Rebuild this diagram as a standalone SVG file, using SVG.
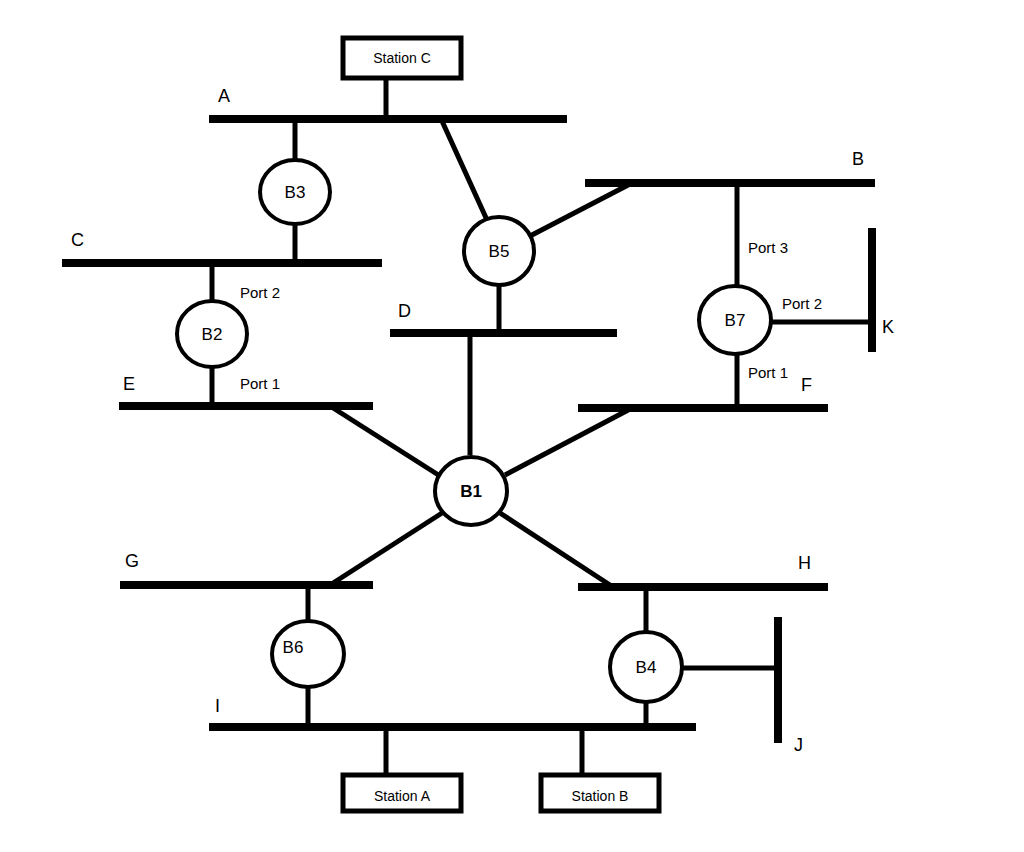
<svg xmlns="http://www.w3.org/2000/svg" width="1024" height="852" viewBox="0 0 1024 852">
<style>
.bus{stroke:#000;stroke-width:8;fill:none}
.ln{stroke:#000;stroke-width:5;fill:none}
.br{fill:#fff;stroke:#000;stroke-width:4}
.box{fill:#fff;stroke:#000;stroke-width:5}
text{font-family:"Liberation Sans",Arial,sans-serif;fill:#000}
.lb{font-size:18px}
.bt{font-size:17px;text-anchor:middle}
.pt{font-size:15px}
.st{font-size:14px;text-anchor:middle}
</style>
<rect width="1024" height="852" fill="#fff"/>
<g id="connectors">
<line class="ln" x1="386" y1="78" x2="386" y2="119"/>
<line class="ln" x1="295" y1="119" x2="295" y2="160"/>
<line class="ln" x1="295" y1="224" x2="295" y2="263"/>
<line class="ln" x1="212" y1="263" x2="212" y2="300"/>
<line class="ln" x1="212" y1="368" x2="212" y2="406"/>
<line class="ln" x1="442" y1="121" x2="487" y2="220"/>
<line class="ln" x1="530" y1="236" x2="632" y2="183"/>
<line class="ln" x1="499" y1="286" x2="499" y2="333"/>
<line class="ln" x1="737" y1="183" x2="737" y2="285"/>
<line class="ln" x1="771" y1="322" x2="872" y2="322"/>
<line class="ln" x1="737" y1="355" x2="737" y2="408"/>
<line class="ln" x1="330" y1="406" x2="440" y2="476"/>
<line class="ln" x1="470" y1="333" x2="470" y2="455"/>
<line class="ln" x1="632" y1="408" x2="505" y2="475"/>
<line class="ln" x1="442" y1="513" x2="330" y2="585"/>
<line class="ln" x1="500" y1="513" x2="613" y2="587"/>
<line class="ln" x1="308" y1="585" x2="308" y2="621"/>
<line class="ln" x1="308" y1="687" x2="308" y2="727"/>
<line class="ln" x1="646" y1="587" x2="646" y2="631"/>
<line class="ln" x1="682" y1="668" x2="778" y2="668"/>
<line class="ln" x1="646" y1="703" x2="646" y2="727"/>
<line class="ln" x1="386" y1="727" x2="386" y2="775"/>
<line class="ln" x1="582" y1="727" x2="582" y2="775"/>
</g>
<g id="busA"><line class="bus" x1="209" y1="119" x2="567" y2="119"/><text class="lb" x="218" y="102">A</text></g>
<g id="busB"><line class="bus" x1="585" y1="183" x2="875" y2="183"/><text class="lb" x="852" y="165">B</text></g>
<g id="busC"><line class="bus" x1="62" y1="263" x2="382" y2="263"/><text class="lb" x="71" y="246">C</text></g>
<g id="busD"><line class="bus" x1="390" y1="333" x2="617" y2="333"/><text class="lb" x="398" y="317">D</text></g>
<g id="busE"><line class="bus" x1="119" y1="406" x2="373" y2="406"/><text class="lb" x="123" y="390">E</text></g>
<g id="busF"><line class="bus" x1="578" y1="408" x2="828" y2="408"/><text class="lb" x="801" y="391">F</text></g>
<g id="busG"><line class="bus" x1="120" y1="585" x2="373" y2="585"/><text class="lb" x="125" y="567">G</text></g>
<g id="busH"><line class="bus" x1="578" y1="587" x2="828" y2="587"/><text class="lb" x="798" y="569">H</text></g>
<g id="busI"><line class="bus" x1="209" y1="727" x2="696" y2="727"/><text class="lb" x="215" y="712">I</text></g>
<g id="busJ"><line class="bus" x1="778" y1="617" x2="778" y2="743"/><text class="lb" x="794" y="751">J</text></g>
<g id="busK"><line class="bus" x1="872" y1="228" x2="872" y2="352"/><text class="lb" x="882" y="333">K</text></g>
<g id="B1"><ellipse class="br" cx="471" cy="491" rx="36" ry="34"/><text class="bt" x="471" y="497" font-weight="bold">B1</text></g>
<g id="B2"><ellipse class="br" cx="212" cy="334" rx="35" ry="33"/><text class="bt" x="212" y="340">B2</text></g>
<g id="B3"><ellipse class="br" cx="295" cy="192" rx="35" ry="32"/><text class="bt" x="295" y="198">B3</text></g>
<g id="B4"><ellipse class="br" cx="646" cy="667" rx="36" ry="35"/><text class="bt" x="646" y="673">B4</text></g>
<g id="B5"><ellipse class="br" cx="499" cy="251" rx="35" ry="34"/><text class="bt" x="499" y="257">B5</text></g>
<g id="B6"><ellipse class="br" cx="308" cy="654" rx="36" ry="33"/><text class="bt" x="293" y="653">B6</text></g>
<g id="B7"><ellipse class="br" cx="735" cy="320" rx="36" ry="34"/><text class="bt" x="735" y="326">B7</text></g>
<g id="ports">
<text class="pt" x="240" y="298">Port 2</text>
<text class="pt" x="240" y="389">Port 1</text>
<text class="pt" x="748" y="253">Port 3</text>
<text class="pt" x="782" y="309">Port 2</text>
<text class="pt" x="748" y="378">Port 1</text>
</g>
<g id="stationC"><rect class="box" x="343" y="38" width="118" height="40"/><text class="st" x="402" y="63">Station C</text></g>
<g id="stationA"><rect class="box" x="343" y="775" width="118" height="36"/><text class="st" x="402" y="801">Station A</text></g>
<g id="stationB"><rect class="box" x="541" y="775" width="118" height="36"/><text class="st" x="600" y="801">Station B</text></g>
</svg>
